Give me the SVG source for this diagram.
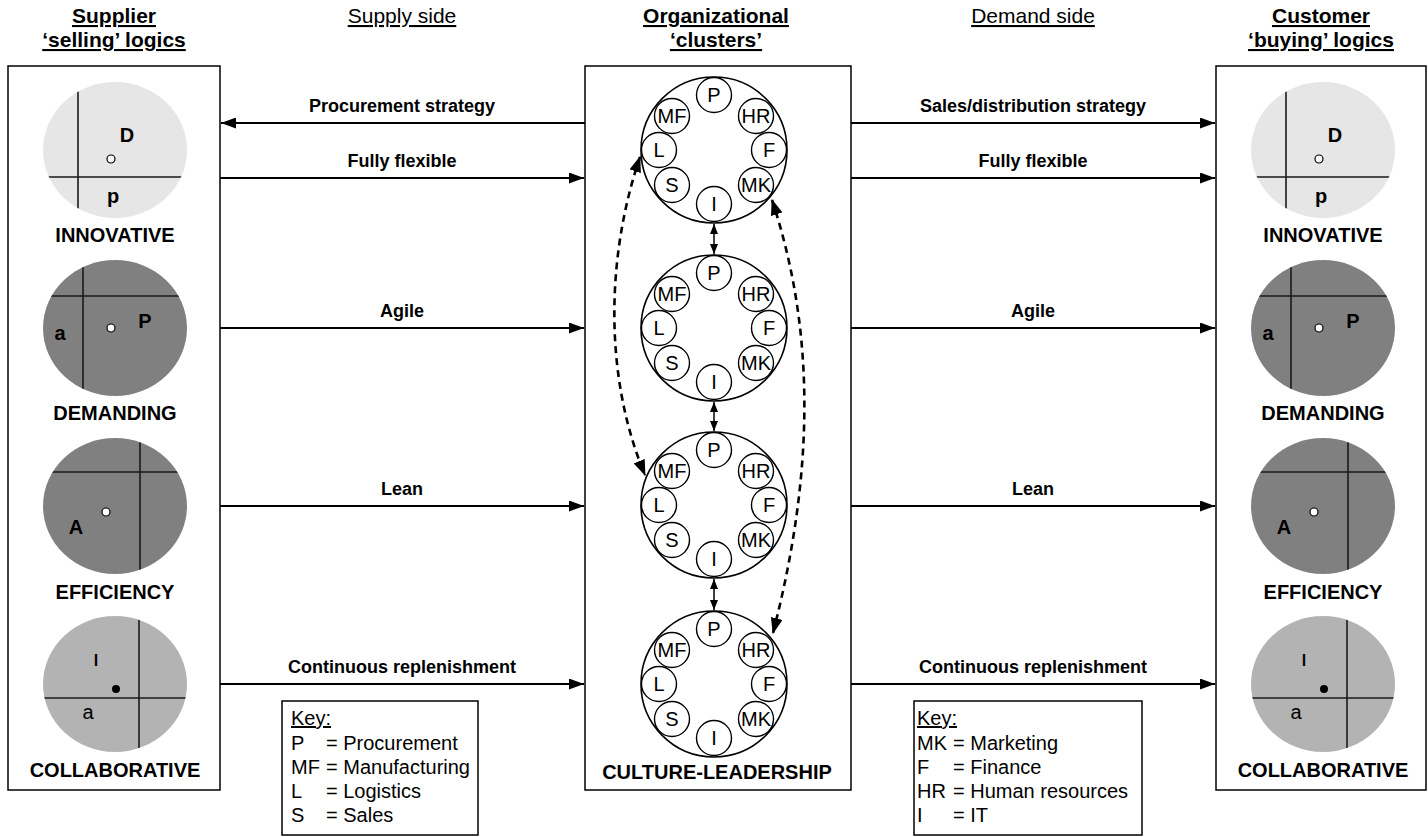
<svg xmlns="http://www.w3.org/2000/svg" width="1428" height="837" viewBox="0 0 1428 837">
<style>
text{font-family:"Liberation Sans",Arial,sans-serif;fill:#000}
.hdr{font-size:21px;font-weight:bold;text-anchor:middle;text-decoration:underline}
.side{font-size:21px;text-anchor:middle;text-decoration:underline}
.lbl{font-size:18px;font-weight:bold;text-anchor:middle}
.cap{font-size:20px;font-weight:bold;text-anchor:middle}
.q{font-size:20px;font-weight:bold;text-anchor:middle}
.qn{font-size:20px;text-anchor:middle}
.ql{font-size:16px;font-weight:bold;text-anchor:middle}
.sc{font-size:20px;text-anchor:middle}
.key{font-size:20px}
.box{fill:#fff;stroke:#000;stroke-width:1.5}
.ax{stroke:#1a1a1a;stroke-width:1.6}
.sm{fill:none;stroke:#000;stroke-width:1.4}
.big{fill:#fff;stroke:#000;stroke-width:1.6}
.arr{stroke:#000;stroke-width:2;fill:none}
.dbl{stroke:#000;stroke-width:1.5}
.dash{stroke:#000;stroke-width:2.6;fill:none;stroke-dasharray:7 5}
</style>
<defs>
<marker id="ah" markerUnits="userSpaceOnUse" markerWidth="15" markerHeight="11" refX="15" refY="5.5" orient="auto"><path d="M0,0 L15,5.5 L0,11 z" fill="#000"/></marker>
<marker id="sh" markerUnits="userSpaceOnUse" markerWidth="10" markerHeight="8" refX="10" refY="4" orient="auto-start-reverse"><path d="M0,0 L10,4 L0,8 z" fill="#000"/></marker>
<marker id="dh" markerUnits="userSpaceOnUse" markerWidth="16" markerHeight="12" refX="15" refY="6" orient="auto-start-reverse"><path d="M0,0 L16,6 L0,12 z" fill="#000"/></marker>
<clipPath id="c1"><ellipse cx="115" cy="150" rx="72" ry="68"/></clipPath>
<clipPath id="c2"><ellipse cx="115" cy="328" rx="72" ry="68"/></clipPath>
<clipPath id="c3"><ellipse cx="115" cy="506" rx="72" ry="68"/></clipPath>
<clipPath id="c4"><ellipse cx="115" cy="684" rx="72" ry="68"/></clipPath>
</defs>
<rect width="1428" height="837" fill="#fff"/>

<g id="headers">
<text class="hdr" x="114" y="23">Supplier</text>
<text class="hdr" x="114" y="47">‘selling’ logics</text>
<text class="side" x="402" y="23">Supply side</text>
<text class="hdr" x="716" y="23">Organizational</text>
<text class="hdr" x="716" y="47">‘clusters’</text>
<text class="side" x="1033" y="23">Demand side</text>
<text class="hdr" x="1321" y="23">Customer</text>
<text class="hdr" x="1321" y="47">‘buying’ logics</text>
</g>

<g id="supplier-panel">
<rect class="box" x="8" y="66" width="212" height="724"/>
</g>
<g id="customer-panel">
<rect class="box" x="1216" y="66" width="210" height="724"/>
</g>
<g id="clusters-panel">
<rect class="box" x="585" y="66" width="266" height="724"/>
<text class="cap" x="717" y="779">CULTURE-LEADERSHIP</text>
</g>

<g id="supplier-innovative">
<ellipse cx="115" cy="150" rx="72" ry="68" fill="#e6e6e6"/>
<g clip-path="url(#c1)"><line class="ax" x1="78" y1="80" x2="78" y2="220"/><line class="ax" x1="40" y1="177" x2="190" y2="177"/></g>
<text class="q" x="127" y="142">D</text>
<circle cx="111" cy="159" r="4" fill="#fff" stroke="#000" stroke-width="1.2"/>
<text class="q" x="113" y="203">p</text>
<text class="cap" x="115" y="242">INNOVATIVE</text>
</g>
<g id="supplier-demanding">
<ellipse cx="115" cy="328" rx="72" ry="68" fill="#808080"/>
<g clip-path="url(#c2)"><line class="ax" x1="83" y1="258" x2="83" y2="398"/><line class="ax" x1="40" y1="296" x2="190" y2="296"/></g>
<text class="q" x="60" y="340">a</text>
<circle cx="111" cy="328" r="4" fill="#fff" stroke="#000" stroke-width="1.2"/>
<text class="q" x="145" y="328">P</text>
<text class="cap" x="115" y="420">DEMANDING</text>
</g>
<g id="supplier-efficiency">
<ellipse cx="115" cy="506" rx="72" ry="68" fill="#808080"/>
<g clip-path="url(#c3)"><line class="ax" x1="140" y1="436" x2="140" y2="576"/><line class="ax" x1="40" y1="472" x2="190" y2="472"/></g>
<circle cx="106" cy="512" r="4" fill="#fff" stroke="#000" stroke-width="1.2"/>
<text class="q" x="76" y="534">A</text>
<text class="cap" x="115" y="599">EFFICIENCY</text>
</g>
<g id="supplier-collaborative">
<ellipse cx="115" cy="684" rx="72" ry="68" fill="#b3b3b3"/>
<g clip-path="url(#c4)"><line class="ax" x1="139" y1="614" x2="139" y2="754"/><line class="ax" x1="40" y1="698" x2="190" y2="698"/></g>
<text class="ql" x="96" y="666">l</text>
<circle cx="116" cy="689" r="4" fill="#000"/>
<text class="qn" x="88" y="719">a</text>
<text class="cap" x="115" y="777">COLLABORATIVE</text>
</g>

<g id="customer-innovative" transform="translate(1208,0)">
<ellipse cx="115" cy="150" rx="72" ry="68" fill="#e6e6e6"/>
<g clip-path="url(#c1)"><line class="ax" x1="78" y1="80" x2="78" y2="220"/><line class="ax" x1="40" y1="177" x2="190" y2="177"/></g>
<text class="q" x="127" y="142">D</text>
<circle cx="111" cy="159" r="4" fill="#fff" stroke="#000" stroke-width="1.2"/>
<text class="q" x="113" y="203">p</text>
<text class="cap" x="115" y="242">INNOVATIVE</text>
</g>
<g id="customer-demanding" transform="translate(1208,0)">
<ellipse cx="115" cy="328" rx="72" ry="68" fill="#808080"/>
<g clip-path="url(#c2)"><line class="ax" x1="83" y1="258" x2="83" y2="398"/><line class="ax" x1="40" y1="296" x2="190" y2="296"/></g>
<text class="q" x="60" y="340">a</text>
<circle cx="111" cy="328" r="4" fill="#fff" stroke="#000" stroke-width="1.2"/>
<text class="q" x="145" y="328">P</text>
<text class="cap" x="115" y="420">DEMANDING</text>
</g>
<g id="customer-efficiency" transform="translate(1208,0)">
<ellipse cx="115" cy="506" rx="72" ry="68" fill="#808080"/>
<g clip-path="url(#c3)"><line class="ax" x1="140" y1="436" x2="140" y2="576"/><line class="ax" x1="40" y1="472" x2="190" y2="472"/></g>
<circle cx="106" cy="512" r="4" fill="#fff" stroke="#000" stroke-width="1.2"/>
<text class="q" x="76" y="534">A</text>
<text class="cap" x="115" y="599">EFFICIENCY</text>
</g>
<g id="customer-collaborative" transform="translate(1208,0)">
<ellipse cx="115" cy="684" rx="72" ry="68" fill="#b3b3b3"/>
<g clip-path="url(#c4)"><line class="ax" x1="139" y1="614" x2="139" y2="754"/><line class="ax" x1="40" y1="698" x2="190" y2="698"/></g>
<text class="ql" x="96" y="666">l</text>
<circle cx="116" cy="689" r="4" fill="#000"/>
<text class="qn" x="88" y="719">a</text>
<text class="cap" x="115" y="777">COLLABORATIVE</text>
</g>

<g id="cluster-1" transform="translate(714,150)">
<circle class="big" r="73"/>
<circle class="sm" cx="0" cy="-55" r="17.5"/><text class="sc" x="0" y="-48">P</text>
<circle class="sm" cx="-42" cy="-34" r="17.5"/><text class="sc" x="-42" y="-27">MF</text>
<circle class="sm" cx="42" cy="-34" r="17.5"/><text class="sc" x="42" y="-27">HR</text>
<circle class="sm" cx="-55" cy="0" r="17.5"/><text class="sc" x="-55" y="7">L</text>
<circle class="sm" cx="55" cy="0" r="17.5"/><text class="sc" x="55" y="7">F</text>
<circle class="sm" cx="-42" cy="35" r="17.5"/><text class="sc" x="-42" y="42">S</text>
<circle class="sm" cx="42" cy="35" r="17.5"/><text class="sc" x="42" y="42">MK</text>
<circle class="sm" cx="0" cy="54" r="17.5"/><text class="sc" x="0" y="61">I</text>
</g>
<g id="cluster-2" transform="translate(714,328)">
<circle class="big" r="73"/>
<circle class="sm" cx="0" cy="-55" r="17.5"/><text class="sc" x="0" y="-48">P</text>
<circle class="sm" cx="-42" cy="-34" r="17.5"/><text class="sc" x="-42" y="-27">MF</text>
<circle class="sm" cx="42" cy="-34" r="17.5"/><text class="sc" x="42" y="-27">HR</text>
<circle class="sm" cx="-55" cy="0" r="17.5"/><text class="sc" x="-55" y="7">L</text>
<circle class="sm" cx="55" cy="0" r="17.5"/><text class="sc" x="55" y="7">F</text>
<circle class="sm" cx="-42" cy="35" r="17.5"/><text class="sc" x="-42" y="42">S</text>
<circle class="sm" cx="42" cy="35" r="17.5"/><text class="sc" x="42" y="42">MK</text>
<circle class="sm" cx="0" cy="54" r="17.5"/><text class="sc" x="0" y="61">I</text>
</g>
<g id="cluster-3" transform="translate(714,505)">
<circle class="big" r="73"/>
<circle class="sm" cx="0" cy="-55" r="17.5"/><text class="sc" x="0" y="-48">P</text>
<circle class="sm" cx="-42" cy="-34" r="17.5"/><text class="sc" x="-42" y="-27">MF</text>
<circle class="sm" cx="42" cy="-34" r="17.5"/><text class="sc" x="42" y="-27">HR</text>
<circle class="sm" cx="-55" cy="0" r="17.5"/><text class="sc" x="-55" y="7">L</text>
<circle class="sm" cx="55" cy="0" r="17.5"/><text class="sc" x="55" y="7">F</text>
<circle class="sm" cx="-42" cy="35" r="17.5"/><text class="sc" x="-42" y="42">S</text>
<circle class="sm" cx="42" cy="35" r="17.5"/><text class="sc" x="42" y="42">MK</text>
<circle class="sm" cx="0" cy="54" r="17.5"/><text class="sc" x="0" y="61">I</text>
</g>
<g id="cluster-4" transform="translate(714,684)">
<circle class="big" r="73"/>
<circle class="sm" cx="0" cy="-55" r="17.5"/><text class="sc" x="0" y="-48">P</text>
<circle class="sm" cx="-42" cy="-34" r="17.5"/><text class="sc" x="-42" y="-27">MF</text>
<circle class="sm" cx="42" cy="-34" r="17.5"/><text class="sc" x="42" y="-27">HR</text>
<circle class="sm" cx="-55" cy="0" r="17.5"/><text class="sc" x="-55" y="7">L</text>
<circle class="sm" cx="55" cy="0" r="17.5"/><text class="sc" x="55" y="7">F</text>
<circle class="sm" cx="-42" cy="35" r="17.5"/><text class="sc" x="-42" y="42">S</text>
<circle class="sm" cx="42" cy="35" r="17.5"/><text class="sc" x="42" y="42">MK</text>
<circle class="sm" cx="0" cy="54" r="17.5"/><text class="sc" x="0" y="61">I</text>
</g>

<g id="key-supply">
<rect class="box" x="282" y="701" width="196" height="134"/>
<text class="key" x="291" y="725" text-decoration="underline">Key:</text>
<text class="key" y="750"><tspan x="291">P</tspan><tspan x="326">= Procurement</tspan></text>
<text class="key" y="774"><tspan x="291">MF</tspan><tspan x="326">= Manufacturing</tspan></text>
<text class="key" y="798"><tspan x="291">L</tspan><tspan x="326">= Logistics</tspan></text>
<text class="key" y="822"><tspan x="291">S</tspan><tspan x="326">= Sales</tspan></text>
</g>
<g id="key-demand">
<rect class="box" x="914" y="701" width="228" height="134"/>
<text class="key" x="917" y="725" text-decoration="underline">Key:</text>
<text class="key" y="750"><tspan x="917">MK</tspan><tspan x="953">= Marketing</tspan></text>
<text class="key" y="774"><tspan x="917">F</tspan><tspan x="953">= Finance</tspan></text>
<text class="key" y="798"><tspan x="917">HR</tspan><tspan x="953">= Human resources</tspan></text>
<text class="key" y="822"><tspan x="917">I</tspan><tspan x="953">= IT</tspan></text>
</g>

<g id="connectors">
<line class="arr" x1="585" y1="123" x2="221" y2="123" marker-end="url(#ah)"/>
<line class="arr" x1="220" y1="178" x2="584" y2="178" marker-end="url(#ah)"/>
<line class="arr" x1="220" y1="328" x2="584" y2="328" marker-end="url(#ah)"/>
<line class="arr" x1="220" y1="506" x2="584" y2="506" marker-end="url(#ah)"/>
<line class="arr" x1="220" y1="684" x2="584" y2="684" marker-end="url(#ah)"/>
<line class="arr" x1="851" y1="123" x2="1215" y2="123" marker-end="url(#ah)"/>
<line class="arr" x1="851" y1="178" x2="1215" y2="178" marker-end="url(#ah)"/>
<line class="arr" x1="851" y1="328" x2="1215" y2="328" marker-end="url(#ah)"/>
<line class="arr" x1="851" y1="506" x2="1215" y2="506" marker-end="url(#ah)"/>
<line class="arr" x1="851" y1="684" x2="1215" y2="684" marker-end="url(#ah)"/>
<line class="dbl" x1="714" y1="224" x2="714" y2="254" marker-start="url(#sh)" marker-end="url(#sh)"/>
<line class="dbl" x1="714" y1="402" x2="714" y2="431" marker-start="url(#sh)" marker-end="url(#sh)"/>
<line class="dbl" x1="714" y1="579" x2="714" y2="610" marker-start="url(#sh)" marker-end="url(#sh)"/>
<path class="dash" d="M640,157 C605,260 605,380 645,475" marker-start="url(#dh)" marker-end="url(#dh)"/>
<path class="dash" d="M772,200 C815,330 815,470 773,633" marker-start="url(#dh)" marker-end="url(#dh)"/>
<text class="lbl" x="402" y="112">Procurement strategy</text>
<text class="lbl" x="402" y="167">Fully flexible</text>
<text class="lbl" x="402" y="317">Agile</text>
<text class="lbl" x="402" y="495">Lean</text>
<text class="lbl" x="402" y="673">Continuous replenishment</text>
<text class="lbl" x="1033" y="112">Sales/distribution strategy</text>
<text class="lbl" x="1033" y="167">Fully flexible</text>
<text class="lbl" x="1033" y="317">Agile</text>
<text class="lbl" x="1033" y="495">Lean</text>
<text class="lbl" x="1033" y="673">Continuous replenishment</text>
</g>
</svg>
